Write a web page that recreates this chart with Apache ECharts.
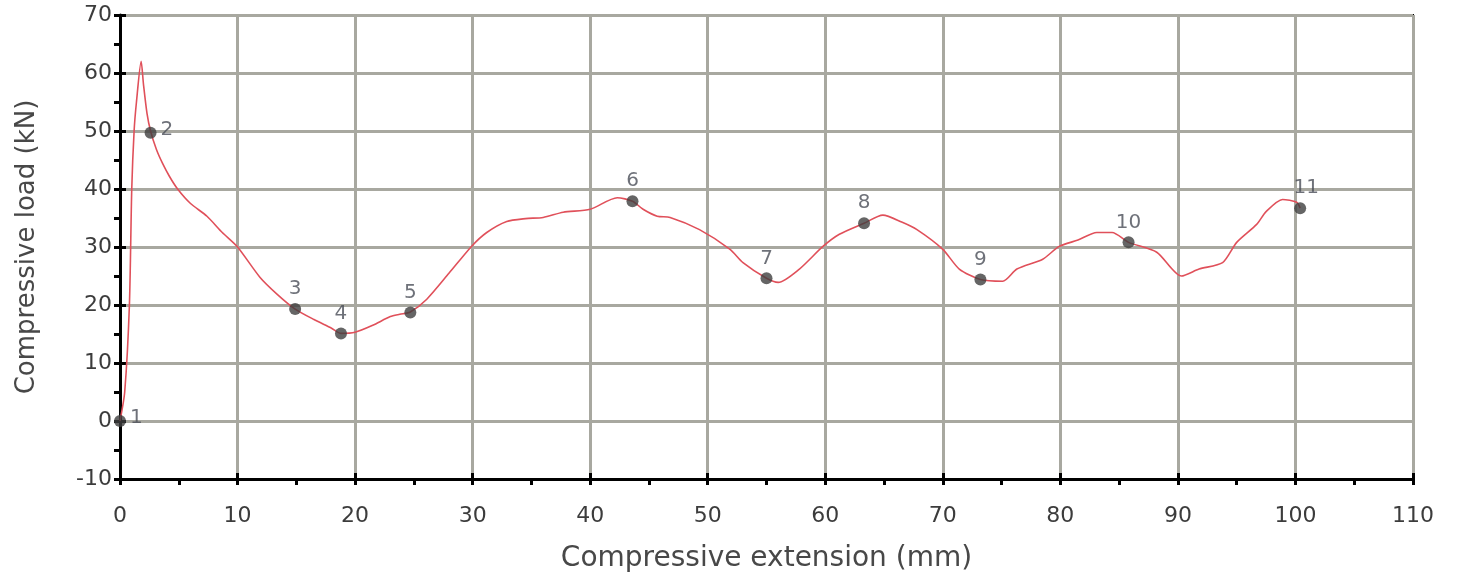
<!DOCTYPE html>
<html>
<head>
<meta charset="utf-8">
<script src="https://cdn.jsdelivr.net/npm/echarts@6/dist/echarts.min.js"></script>
<style>
html, body { margin: 0; padding: 0; background: #fff; }
#main { width: 1461px; height: 582px; }
</style>
</head>
<body>
<div id="main"></div>
<script>
// curve
var extension = [0, 0.4, 0.8, 1.0, 1.2, 1.4, 1.8, 2.0, 2.3, 2.6, 3.1, 3.6, 4.2, 4.9, 6.0, 7.4, 8.7, 10.0, 11.9, 13.4, 14.9, 16.5, 18.0, 18.8, 20.0, 21.5, 23.0, 23.8, 24.7, 26.1, 28.0, 29.9, 31.2, 32.9, 34.5, 36.0, 37.7, 40.0, 42.3, 43.6, 44.5, 45.7, 46.8, 49.3, 51.9, 53.0, 55.0, 56.0, 57.8, 59.8, 61.2, 63.3, 64.9, 66.5, 67.8, 70.0, 71.4, 73.2, 75.1, 76.3, 78.5, 79.9, 81.5, 83.1, 84.4, 85.8, 88.2, 90.3, 91.8, 93.8, 95.0, 96.7, 97.5, 98.9, 100.1, 100.4];
var load = [0, 5, 20, 40, 50, 55, 62, 58, 53, 50, 46.8, 44.5, 42.2, 40, 37.5, 35.3, 32.5, 30, 24.8, 21.8, 19.3, 17.5, 16, 15.1, 15.3, 16.5, 18, 18.4, 18.8, 21, 25.5, 30.1, 32.5, 34.4, 34.9, 35.1, 36, 36.5, 38.5, 37.9, 36.5, 35.3, 35.1, 33, 29.6, 27.3, 24.6, 23.9, 26.2, 30.1, 32.2, 34.1, 35.5, 34.3, 33, 29.6, 26.2, 24.4, 24.1, 26.2, 27.9, 30.1, 31.2, 32.5, 32.5, 30.8, 29.1, 25, 26.2, 27.3, 30.8, 33.9, 36.1, 38.2, 37.7, 36.7];

// numbered points
var pointX = [0, 2.6, 14.9, 18.8, 24.7, 43.6, 55.0, 63.3, 73.2, 85.8, 100.4];
var pointY = [0, 49.7, 19.3, 15.1, 18.7, 37.9, 24.6, 34.1, 24.4, 30.8, 36.7];
var pointNames = ['1', '2', '3', '4', '5', '6', '7', '8', '9', '10', '11'];

var myChart = echarts.init(document.getElementById('main'));

var curve = extension.map(function (x, i) { return [x, load[i]]; });
var points = pointX.map(function (x, i) {
    var pos = 'top';
    if (i < 2) pos = 'right';
    return {
        value: [x, pointY[i]],
        name: pointNames[i],
        label: { position: pos, offset: i === 10 ? [6, 0] : (i < 2 ? [0, -3] : [0, 0]) }
    };
});

var font = 'DejaVu Sans';
var gridLine = { show: true, lineStyle: { color: '#a8a8a0', width: 3 } };
var tickStyle = { color: '#000', width: 3 };

var option = {
    backgroundColor: '#ffffff',
    animation: false,
    grid: {
        left: 120, top: 15, right: 48, bottom: 103,
        outerBoundsMode: 'none', containLabel: false,
        show: true, borderColor: '#000', borderWidth: 2, backgroundColor: 'transparent'
    },
    xAxis: [{
        type: 'value', min: 0, max: 110, interval: 10,
        name: 'Compressive extension (mm)', nameLocation: 'middle', nameGap: 66,
        nameTextStyle: { fontFamily: font, fontSize: 28, color: '#484848' },
        axisLine: { onZero: false, lineStyle: { color: '#000', width: 3 } },
        axisTick: { length: 6, lineStyle: tickStyle },
        minorTick: { show: true, splitNumber: 2, length: 6, lineStyle: tickStyle },
        axisLabel: { fontFamily: font, fontSize: 22, color: '#3c3c3c', margin: 26 },
        splitLine: gridLine
    }, {
        type: 'value', min: 0, max: 110, interval: 10, position: 'bottom',
        axisLine: { show: false, onZero: false },
        axisTick: { inside: true, length: 6, lineStyle: tickStyle },
        minorTick: { show: true, splitNumber: 2, length: -6, lineStyle: tickStyle },
        axisLabel: { show: false },
        splitLine: { show: false }
    }],
    yAxis: [{
        type: 'value', min: -10, max: 70, interval: 10,
        name: 'Compressive load (kN)', nameLocation: 'middle', nameGap: 80,
        nameTextStyle: { fontFamily: font, fontSize: 26, color: '#484848' },
        axisLine: { show: true, onZero: false, lineStyle: { color: '#000', width: 3 } },
        axisTick: { show: true, length: 6, lineStyle: tickStyle },
        minorTick: { show: true, splitNumber: 2, length: 6, lineStyle: tickStyle },
        axisLabel: { fontFamily: font, fontSize: 22, color: '#3c3c3c', margin: 8 },
        splitLine: gridLine
    }, {
        type: 'value', min: -10, max: 70, interval: 10, position: 'left',
        axisLine: { show: false, onZero: false },
        axisTick: { show: true, inside: true, length: 6, lineStyle: tickStyle },
        minorTick: { show: true, splitNumber: 2, length: -6, lineStyle: tickStyle },
        axisLabel: { show: false },
        splitLine: { show: false }
    }],
    series: [{
        type: 'line',
        data: curve,
        showSymbol: false,
        smooth: 0.25,
        lineStyle: { color: '#e0505a', width: 1.6 },
        z: 3
    }, {
        type: 'scatter',
        data: points,
        symbolSize: 12,
        itemStyle: { color: '#3f3f3f' },
        label: {
            show: true, formatter: '{b}', fontFamily: font, fontSize: 20,
            color: '#4a4e58', distance: 4
        },
        z: 4
    }]
};

myChart.setOption(option);
</script>
</body>
</html>
